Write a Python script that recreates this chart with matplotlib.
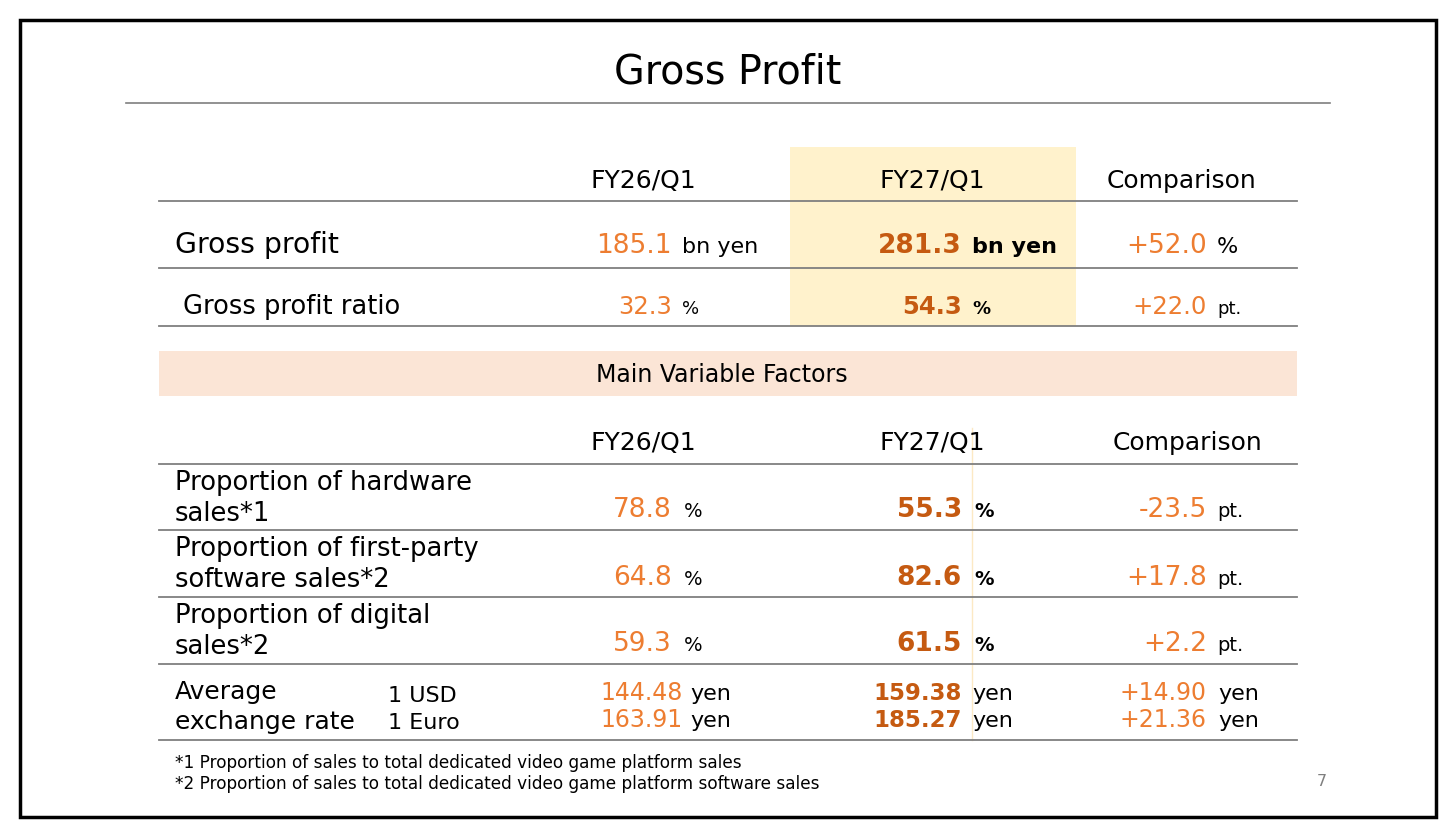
import matplotlib
matplotlib.use("Agg")
import matplotlib.pyplot as plt
from matplotlib.patches import Rectangle

plt.rcParams['font.family'] = ['DejaVu Sans']

# data
title = "Gross Profit"
periods = ["FY26/Q1", "FY27/Q1", "Comparison"]
gp_labels = ["Gross profit", "Gross profit ratio"]
gp_fy26 = [185.1, 32.3]
gp_fy27 = [281.3, 54.3]
gp_comp = [52.0, 22.0]
gp_units = ["bn yen", "%"]
gp_comp_units = ["%", "pt."]

band_title = "Main Variable Factors"
factor_labels = ["Proportion of hardware\nsales*1",
                 "Proportion of first-party\nsoftware sales*2",
                 "Proportion of digital\nsales*2"]
factor_fy26 = [78.8, 64.8, 59.3]
factor_fy27 = [55.3, 82.6, 61.5]
factor_comp = [-23.5, 17.8, 2.2]

fx_label = "Average\nexchange rate"
fx_currency = ["1 USD", "1 Euro"]
fx_fy26 = [144.48, 163.91]
fx_fy27 = [159.38, 185.27]
fx_comp = [14.90, 21.36]

footnotes = ["*1 Proportion of sales to total dedicated video game platform sales",
             "*2 Proportion of sales to total dedicated video game platform software sales"]
page_no = "7"

LIGHT = "#ED7D31"
DARK = "#C55A11"
GRID = "#7F7F7F"

fig = plt.figure(figsize=(14.56, 8.27), dpi=100)
ax = fig.add_axes([0, 0, 1, 1])
ax.set_xlim(0, 1456)
ax.set_ylim(827, 0)
ax.axis('off')

# slide frame
ax.add_patch(Rectangle((20, 20), 1416, 797, fill=False, ec='black', lw=2.5))

ax.text(728, 72, title, fontsize=28.5, ha='center', va='center')
ax.plot([126, 1330], [103, 103], color=GRID, lw=1.2)

# top table
ax.add_patch(Rectangle((790, 147), 286, 179, color="#FFF2CC", lw=0))
head_x = [643, 932, 1182]
for x, p in zip(head_x, periods):
    ax.text(x, 188, p, fontsize=18, ha='center', va='baseline')
for y in [201, 268, 326]:
    ax.plot([159, 1297], [y, y], color=GRID, lw=1.3)

gp_base = [253, 314]
gp_label_x = [175, 183]
gp_label_size = [20.3, 18.5]
for i in range(2):
    b = gp_base[i]
    ax.text(gp_label_x[i], b, gp_labels[i], fontsize=gp_label_size[i], va='baseline')
    vs = 19 if i == 0 else 17.5
    us = 16 if i == 0 else 13
    ax.text(672, b, f"{gp_fy26[i]:.1f}", fontsize=vs, color=LIGHT, ha='right', va='baseline')
    ax.text(682, b, gp_units[i], fontsize=us, va='baseline')
    ax.text(962, b, f"{gp_fy27[i]:.1f}", fontsize=vs, color=DARK, ha='right', va='baseline', fontweight='bold')
    ax.text(972, b, gp_units[i], fontsize=us, va='baseline', fontweight='bold')
    ax.text(1207, b, f"{gp_comp[i]:+.1f}", fontsize=vs, color=LIGHT, ha='right', va='baseline')
    ax.text(1217, b, gp_comp_units[i], fontsize=us, va='baseline')

# band
ax.add_patch(Rectangle((159, 351), 1138, 45, color="#FBE5D6", lw=0))
ax.text(722, 375, band_title, fontsize=17, ha='center', va='center')

# second table
ax.plot([972, 972], [428, 740], color="#FCE9C4", lw=1)
head2_x = [643, 932, 1187]
for x, p in zip(head2_x, periods):
    ax.text(x, 450, p, fontsize=18, ha='center', va='baseline')
for y in [464, 530, 597, 664, 740]:
    ax.plot([159, 1297], [y, y], color=GRID, lw=1.3)

label_top = [490, 556, 623]
val_base = [517, 585, 651]
for i in range(3):
    l1, l2 = factor_labels[i].split("\n")
    ax.text(175, label_top[i], l1, fontsize=18.6, va='baseline')
    ax.text(175, label_top[i] + 31, l2, fontsize=18.6, va='baseline')
    b = val_base[i]
    ax.text(672, b, f"{factor_fy26[i]:.1f}", fontsize=19, color=LIGHT, ha='right', va='baseline')
    ax.text(684, b, "%", fontsize=14, va='baseline')
    ax.text(962, b, f"{factor_fy27[i]:.1f}", fontsize=19, color=DARK, ha='right', va='baseline', fontweight='bold')
    ax.text(974, b, "%", fontsize=14, va='baseline', fontweight='bold')
    txt = f"{factor_comp[i]:+.1f}"
    ax.text(1207, b, txt, fontsize=19, color=LIGHT, ha='right', va='baseline')
    ax.text(1217, b, "pt.", fontsize=14, va='baseline')

# exchange rate
l1, l2 = fx_label.split("\n")
ax.text(175, 699, l1, fontsize=18, va='baseline')
ax.text(175, 729, l2, fontsize=18, va='baseline')
fx_base = [700, 727]
for i in range(2):
    b = fx_base[i]
    ax.text(388, b + 2, fx_currency[i], fontsize=16, va='baseline')
    ax.text(683, b, f"{fx_fy26[i]:.2f}", fontsize=17, color=LIGHT, ha='right', va='baseline')
    ax.text(690, b, "yen", fontsize=16, va='baseline')
    ax.text(962, b, f"{fx_fy27[i]:.2f}", fontsize=16.5, color=DARK, ha='right', va='baseline', fontweight='bold')
    ax.text(972, b, "yen", fontsize=16, va='baseline')
    ax.text(1207, b, f"{fx_comp[i]:+.2f}", fontsize=17, color=LIGHT, ha='right', va='baseline')
    ax.text(1218, b, "yen", fontsize=16, va='baseline')

for j, note in enumerate(footnotes):
    ax.text(175, 768 + 21 * j, note, fontsize=12.2, va='baseline')
ax.text(1322, 781, page_no, fontsize=11.5, color="#7F7F7F", ha='center', va='center')

fig.savefig("out.png", dpi=100)
